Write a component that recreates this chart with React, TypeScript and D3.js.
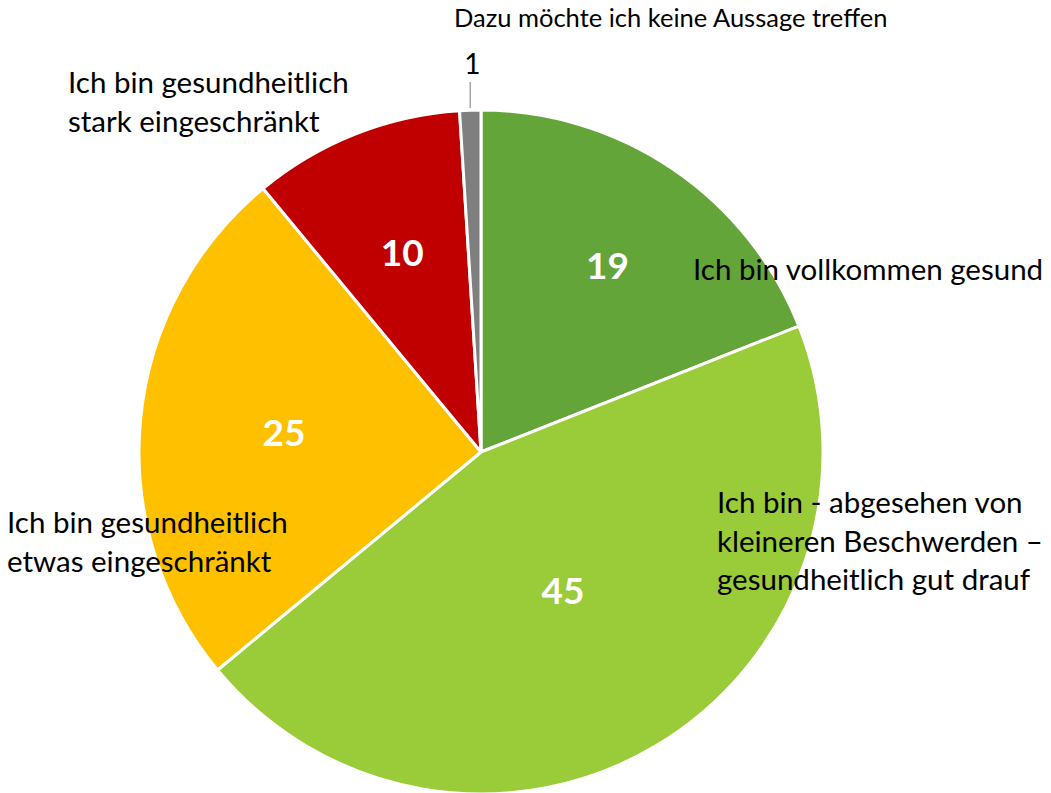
import * as d3 from "d3";

// Werte aus der Grafik (Prozent)
const categories = [
  "Ich bin vollkommen gesund",
  "Ich bin - abgesehen von kleineren Beschwerden – gesundheitlich gut drauf",
  "Ich bin gesundheitlich etwas eingeschränkt",
  "Ich bin gesundheitlich stark eingeschränkt",
  "Dazu möchte ich keine Aussage treffen",
];
const values = [19, 45, 25, 10, 1];
const colors = ["#63A539", "#9ACB38", "#FFC000", "#C00000", "#7F7F7F"];

// Zeilenumbrüche der Beschriftungen wie im Original
const labelLines = [
  ["Ich bin vollkommen gesund"],
  ["Ich bin - abgesehen von", "kleineren Beschwerden –", "gesundheitlich gut drauf"],
  ["Ich bin gesundheitlich", "etwas eingeschränkt"],
  ["Ich bin gesundheitlich", "stark eingeschränkt"],
  ["Dazu möchte ich keine Aussage treffen"],
];

const W = 1051;
const H = 793;
const cx = 481;
const cy = 452;
const radius = 342;
const FONT = "Lato, 'Open Sans', sans-serif";

// Position der Kategorie-Labels (links, Grundlinie der ersten Zeile), Zeilenabstand
const labelPos = [
  { x: 693, y: 280, size: 29.5, lh: 39 },
  { x: 717, y: 513, size: 29.5, lh: 38.5 },
  { x: 7, y: 533, size: 29.5, lh: 39 },
  { x: 68, y: 93, size: 29.5, lh: 39 },
  { x: 454, y: 27, size: 25.5, lh: 30 },
];
// Abstand der Werte vom Mittelpunkt (Excel "beste Anpassung")
const valueRadius = [225, 161, 198, 214, 0];

export default function App() {
  const pie = d3
    .pie<number>()
    .value((d) => d)
    .sort(null);
  const arcs = pie(values);
  const arc = d3.arc<d3.PieArcDatum<number>>().innerRadius(0).outerRadius(radius);

  // Leader für die kleine Scheibe
  const small = arcs[4];
  const smallMid = (small.startAngle + small.endAngle) / 2;
  const lx = cx + Math.sin(smallMid) * radius;

  return (
    <svg
      width={W}
      height={H}
      style={{ position: "absolute", left: 0, top: 0, background: "#fff" }}
      fontFamily={FONT}
    >
      <g transform={`translate(${cx},${cy})`}>
        {arcs.map((a, i) => (
          <path key={i} d={arc(a)!} fill={colors[i]} stroke="#fff" strokeWidth={3} strokeLinejoin="round" />
        ))}
        {arcs.map((a, i) => {
          if (i === 4) return null;
          const [x, y] = d3
            .arc<d3.PieArcDatum<number>>()
            .innerRadius(valueRadius[i])
            .outerRadius(valueRadius[i])
            .centroid(a);
          return (
            <text
              key={i}
              x={x}
              y={y}
              dy="0.35em"
              textAnchor="middle"
              fill="#fff"
              fontWeight={700}
              fontSize={37}
            >
              {values[i]}
            </text>
          );
        })}
      </g>

      {/* Leader + Wert der 1%-Scheibe */}
      <line x1={lx} x2={lx} y1={82} y2={cy - radius - 2} stroke="#A6A6A6" strokeWidth={1.5} />
      <text x={lx + 2} y={74} textAnchor="middle" fontSize={28} fill="#000">
        {values[4]}
      </text>

      {labelLines.map((lines, i) => (
        <text key={i} x={labelPos[i].x} y={labelPos[i].y} fontSize={labelPos[i].size} fill="#000">
          {lines.map((l, j) => (
            <tspan key={j} x={labelPos[i].x} dy={j === 0 ? 0 : labelPos[i].lh}>
              {l}
            </tspan>
          ))}
        </text>
      ))}
    </svg>
  );
}
